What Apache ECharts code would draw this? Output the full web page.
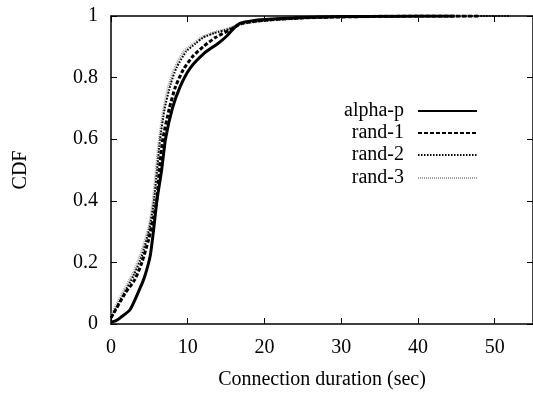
<!DOCTYPE html>
<html>
<head>
<meta charset="utf-8">
<title>CDF</title>
<script src="https://cdn.jsdelivr.net/npm/echarts@6/dist/echarts.min.js"></script>
<style>
  html, body { margin: 0; padding: 0; background: #fff; }
  #chart { width: 533px; height: 395px; }
</style>
</head>
<body>
<div id="chart"></div>
<script>
// tick labels
var xTicks = [0, 10, 20, 30, 40, 50];
var yTicks = [0, 0.2, 0.4, 0.6, 0.8, 1];

// alpha-p
var alphaX = [0, 0.6, 1.2, 2.5, 3.8, 4.4, 5.1, 5.5, 6.0, 6.6, 7.1, 8.0, 9.0, 10.3, 12.2, 13.9, 15.1, 16.0, 16.8, 18.5, 21, 25, 30, 35, 40, 44.8];
var alphaY = [0.006, 0.01, 0.02, 0.047, 0.117, 0.155, 0.22, 0.295, 0.403, 0.5, 0.6, 0.7, 0.77, 0.83, 0.88, 0.91, 0.935, 0.96, 0.976, 0.985, 0.99, 0.995, 0.998, 0.999, 1, 1];

// rand-1
var rand1X = [0, 1.85, 3.1, 4.0, 4.9, 5.5, 5.96, 6.3, 6.75, 7.6, 8.4, 9.4, 10.7, 12.0, 13.6, 15.5, 17.0, 19, 22, 26, 30, 35, 40, 45, 48];
var rand1Y = [0.02, 0.1, 0.144, 0.198, 0.274, 0.34, 0.403, 0.5, 0.6, 0.7, 0.77, 0.825, 0.87, 0.9, 0.93, 0.955, 0.975, 0.984, 0.99, 0.995, 0.997, 0.999, 1, 1, 1];

// rand-2
var rand2X = [0, 1.5, 3.0, 4.0, 5.0, 5.6, 6.0, 6.4, 7.0, 7.8, 8.5, 9.8, 11.0, 12.0, 13.5, 15.4, 17, 20, 25, 30, 40, 52];
var rand2Y = [0.02, 0.09, 0.16, 0.22, 0.31, 0.4, 0.5, 0.6, 0.7, 0.78, 0.83, 0.885, 0.91, 0.93, 0.945, 0.958, 0.975, 0.985, 0.993, 0.997, 0.999, 1];

// rand-3
var rand3X = [0, 1.5, 3.0, 4.0, 5.0, 5.5, 5.9, 6.3, 6.9, 7.6, 8.3, 9.5, 10.8, 11.8, 13.3, 15.2, 17, 20, 25, 30, 40, 48];
var rand3Y = [0.025, 0.1, 0.17, 0.235, 0.32, 0.4, 0.5, 0.6, 0.7, 0.78, 0.83, 0.885, 0.91, 0.93, 0.945, 0.958, 0.975, 0.985, 0.993, 0.997, 0.999, 1];

var names = ['alpha-p', 'rand-1', 'rand-2', 'rand-3'];

function pairs(xs, ys) {
    var out = [];
    for (var i = 0; i < xs.length; i++) out.push([xs[i], ys[i]]);
    return out;
}

var font = 'Liberation Serif';
var black = '#000';
var fs = 20;

var myChart = echarts.init(document.getElementById('chart'));

// one legend per entry, so the text is right aligned against the line sample
var legendTops = [96, 118, 140, 163];
var legends = names.map(function (n, i) {
    return {
        data: [n],
        right: 50,
        top: legendTops[i],
        align: 'right',
        itemWidth: 59,
        itemHeight: 18,
        itemGap: 0,
        selectedMode: false,
        itemStyle: { opacity: 0 },
        textStyle: { fontFamily: font, fontSize: fs, color: black, padding: [0, 9, 0, 0] }
    };
});

function xAxisDef(pos) {
    return {
        type: 'value',
        position: pos,
        min: 0, max: 55, interval: 10,
        splitLine: { show: false },
        axisLine: { show: true, onZero: false, lineStyle: { color: black, width: 1.5 } },
        axisTick: { show: true, inside: true, length: 6, lineStyle: { color: black } },
        axisLabel: {
            show: pos === 'bottom', showMaxLabel: false, margin: 14,
            fontFamily: font, fontSize: fs, color: black,
            formatter: function (v) { return xTicks.indexOf(v) >= 0 ? String(v) : ''; }
        },
        name: pos === 'bottom' ? 'Connection duration (sec)' : '',
        nameLocation: 'middle',
        nameGap: 46,
        nameTextStyle: { fontFamily: font, fontSize: fs, color: black }
    };
}

function yAxisDef(pos) {
    return {
        type: 'value',
        position: pos,
        min: 0, max: 1, interval: 0.2,
        splitLine: { show: false },
        axisLine: { show: true, onZero: false, lineStyle: { color: black, width: 1.5 } },
        axisTick: { show: true, inside: true, length: 6, lineStyle: { color: black } },
        axisLabel: {
            show: pos === 'left', margin: 13,
            fontFamily: font, fontSize: fs, color: black,
            formatter: function (v) {
                var t = yTicks.filter(function (k) { return Math.abs(k - v) < 1e-9; });
                return t.length ? String(t[0]) : '';
            }
        },
        name: pos === 'left' ? 'CDF' : '',
        nameLocation: 'middle',
        nameGap: 80,
        nameRotate: 90,
        nameTextStyle: { fontFamily: font, fontSize: fs, color: black }
    };
}

var styles = [
    { color: black, width: 3, type: 'solid' },
    { color: black, width: 3, type: [4, 2] },
    { color: black, width: 2, type: [1.5, 1.5] },
    { color: '#a0a0a0', width: 3, type: [1, 1] }
];
var xs = [alphaX, rand1X, rand2X, rand3X];
var ys = [alphaY, rand1Y, rand2Y, rand3Y];

myChart.setOption({
    animation: false,
    backgroundColor: '#fff',
    grid: { left: 111, top: 16, width: 424, height: 308 },
    legend: legends,
    xAxis: [xAxisDef('bottom'), xAxisDef('top')],
    yAxis: [yAxisDef('left'), yAxisDef('right')],
    series: names.map(function (n, i) {
        return {
            name: n,
            type: 'line',
            xAxisIndex: 0,
            yAxisIndex: 0,
            symbol: 'none',
            smooth: 0.2,
            color: styles[i].color,
            lineStyle: styles[i],
            data: pairs(xs[i], ys[i])
        };
    }).reverse()
});
</script>
</body>
</html>
